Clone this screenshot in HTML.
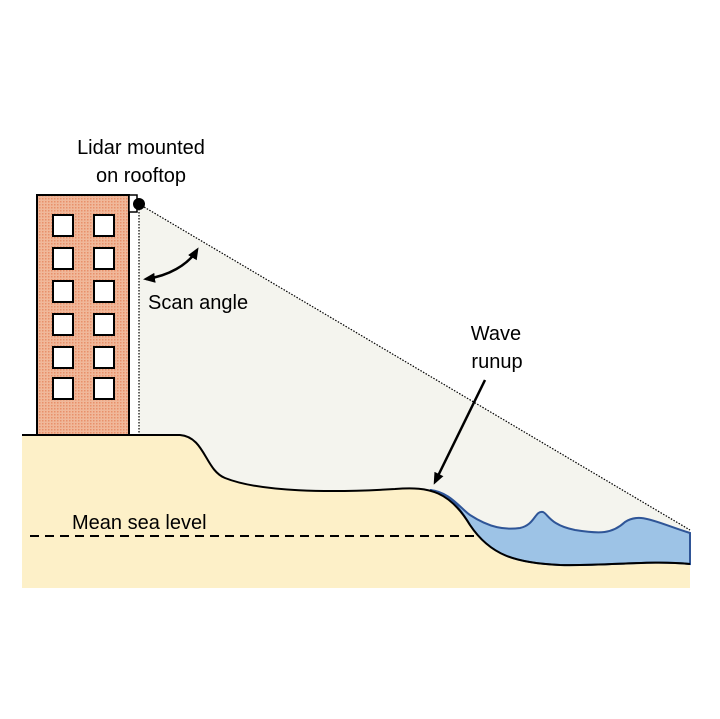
<!DOCTYPE html>
<html><head><meta charset="utf-8"><style>body{margin:0;background:#fff}svg{display:block}text{font-family:"Liberation Sans",sans-serif;font-size:20px;fill:#000}</style></head>
<body>
<svg width="720" height="719" viewBox="0 0 720 719">
<defs>
<pattern id="dots" width="3" height="3" patternUnits="userSpaceOnUse"><rect width="3" height="3" fill="#f0b89a"/><rect width="1.5" height="1.5" fill="#e8906a"/></pattern>
<marker id="ah" markerWidth="12" markerHeight="12" refX="9" refY="6" orient="auto" markerUnits="userSpaceOnUse"><path d="M0,1 L12,6 L0,11 z" fill="#000"/></marker>
<marker id="ahs" markerWidth="12" markerHeight="12" refX="3" refY="6" orient="auto" markerUnits="userSpaceOnUse"><path d="M12,1 L0,6 L12,11 z" fill="#000"/></marker>
</defs>
<polygon points="139,204 690,530 690,580 139,580" fill="#f4f4ee"/>
<line x1="139" y1="206" x2="139" y2="436" stroke="#000" stroke-width="1.2" stroke-dasharray="1.5,1.5"/>
<line x1="139" y1="204" x2="690" y2="530" stroke="#000" stroke-width="1.2" stroke-dasharray="1.5,1.5"/>
<path d="M22,435 L180,435 C205,437 205,470 225,478 C260,492 330,493 395,489 C430,486 450,492 470,525 C490,555 515,563 560,565 C610,566 650,560 690,564 L690,588 L22,588 Z" fill="#fdf0c8"/>
<path d="M430,490 C450,492 460,508 470,515 C490,528 505,530 520,528 C535,525 535,510 543,512 C548,514 550,525 575,530 C600,534 612,534 625,522 C640,512 655,522 690,533 L690,564 C650,560 610,566 560,565 C515,563 490,555 470,525 C455,500 445,492 430,490 Z" fill="#9dc3e6" stroke="#2f5597" stroke-width="2"/>
<path d="M22,435 L180,435 C205,437 205,470 225,478 C260,492 330,493 395,489 C430,486 450,492 470,525 C490,555 515,563 560,565 C610,566 650,560 690,564" fill="none" stroke="#000" stroke-width="2"/>
<rect x="37" y="195" width="92" height="240" fill="url(#dots)" stroke="#000" stroke-width="2"/>
<g fill="#fff" stroke="#000" stroke-width="2">
<rect x="53" y="215" width="20" height="21"/><rect x="94" y="215" width="20" height="21"/>
<rect x="53" y="248" width="20" height="21"/><rect x="94" y="248" width="20" height="21"/>
<rect x="53" y="281" width="20" height="21"/><rect x="94" y="281" width="20" height="21"/>
<rect x="53" y="314" width="20" height="21"/><rect x="94" y="314" width="20" height="21"/>
<rect x="53" y="347" width="20" height="21"/><rect x="94" y="347" width="20" height="21"/>
<rect x="53" y="378" width="20" height="21"/><rect x="94" y="378" width="20" height="21"/>
</g>
<rect x="129" y="195" width="8" height="17" fill="#fff" stroke="#000" stroke-width="1.5"/>
<circle cx="139" cy="204" r="6" fill="#000"/>
<line x1="30" y1="536" x2="475" y2="536" stroke="#000" stroke-width="2" stroke-dasharray="9,6"/>
<path d="M146,279 C168,276 188,265 197,250" fill="none" stroke="#000" stroke-width="2.5" marker-start="url(#ahs)" marker-end="url(#ah)"/>
<line x1="485" y1="380" x2="435" y2="482" stroke="#000" stroke-width="2.5" marker-end="url(#ah)"/>
<text x="141" y="154" text-anchor="middle">Lidar mounted</text>
<text x="141" y="182" text-anchor="middle">on rooftop</text>
<text x="148" y="309">Scan angle</text>
<text x="496" y="340" text-anchor="middle">Wave</text>
<text x="497" y="368" text-anchor="middle">runup</text>
<text x="72" y="529">Mean sea level</text>
</svg>
</body></html>
